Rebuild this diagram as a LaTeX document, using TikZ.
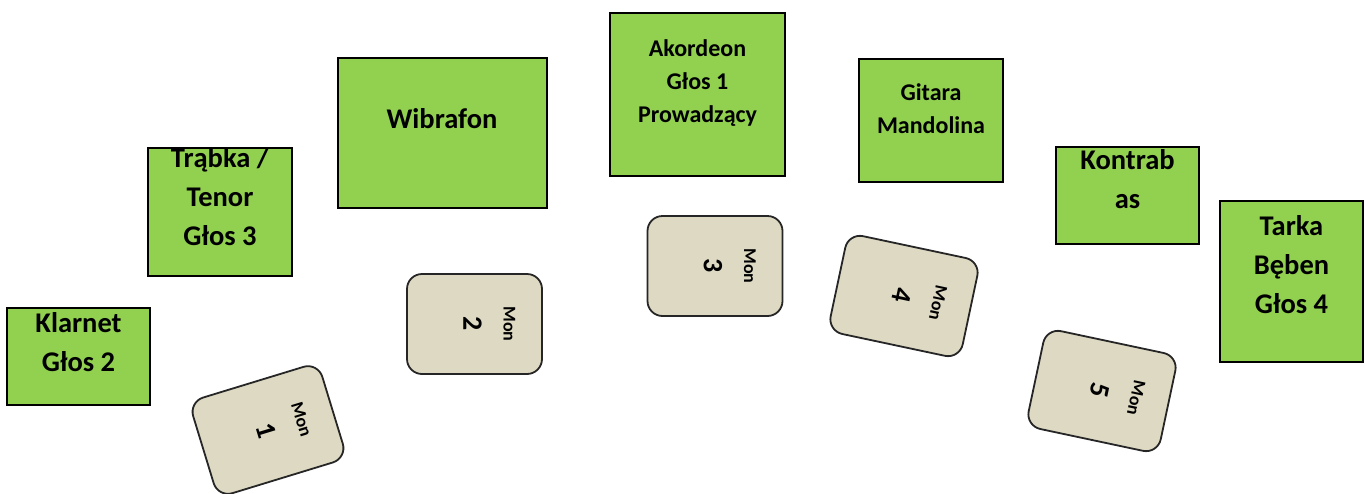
\documentclass[tikz,border=0pt]{standalone}
\usepackage{fontspec}
\setmainfont{Carlito}
\definecolor{boxgreen}{HTML}{92D050}
\definecolor{monfill}{HTML}{DDD9C3}
\definecolor{monline}{HTML}{262626}
\begin{document}
\begin{tikzpicture}[x=1pt,y=-1pt,
  greenbox/.style={draw=black, line width=2pt, fill=boxgreen, inner sep=0pt},
  bigtxt/.style={font=\bfseries\fontsize{28.5}{39}\selectfont, align=center, anchor=north, inner sep=0pt},
  smalltxt/.style={font=\bfseries\fontsize{24}{33}\selectfont, align=center, anchor=north, inner sep=0pt},
  monbox/.style={draw=monline, line width=1.8pt, fill=monfill, rounded corners=15pt,
    minimum width=135pt, minimum height=100pt, inner sep=0pt},
  montag/.style={font=\bfseries\fontsize{18}{20}\selectfont, inner sep=0pt, rotate=-90},
  monnum/.style={font=\bfseries\fontsize{28}{30}\selectfont, inner sep=0pt, rotate=-90}]
\useasboundingbox (0,0) rectangle (1365,493);
% green instrument boxes
\path[greenbox] (7,308) rectangle (150,405) node[midway] (klb) {};
\node[bigtxt] (klt) at (78.5,{332-27.3}) {\strut Klarnet\\Głos 2};
\path[greenbox] (148,148) rectangle (292,276) node[midway] (trb) {};
\node[bigtxt] (trt) at (220,{167-27.3}) {\strut Trąbka /\\Tenor\\Głos 3};
\path[greenbox] (338,58) rectangle (547,208) node[midway] (wib) {};
\node[bigtxt] (wit) at (442,{128-27.3}) {\strut Wibrafon};
\path[greenbox] (610,13) rectangle (785,176) node[midway] (akb) {};
\node[smalltxt] (akt) at (697.5,{56.7-23.1}) {\strut Akordeon\\Głos 1\\Prowadzący};
\path[greenbox] (859,59) rectangle (1003,182) node[midway] (gib) {};
\node[smalltxt] (git) at (931,{100-23.1}) {\strut Gitara\\Mandolina};
\path[greenbox] (1056,147) rectangle (1199,244) node[midway] (kob) {};
\node[bigtxt] (kot) at (1127.5,{169-27.3}) {\strut Kontrab\\as};
\path[greenbox] (1220,201) rectangle (1363,362) node[midway] (tab) {};
\node[bigtxt] (tat) at (1291.5,{235-27.3}) {\strut Tarka\\Bęben\\Głos 4};
% monitors
\begin{scope}[shift={(268,430)}, rotate=17, transform shape]
  \node[monbox] (m1) at (0,0) {};
  \node[montag] (m1t) at (35,0) {Mon};
  \node[monnum] (m1n) at (-2,0) {1};
\end{scope}
\begin{scope}[shift={(474.5,324)}, transform shape]
  \node[monbox] (m2) at (0,0) {};
  \node[montag] (m2t) at (35,0) {Mon};
  \node[monnum] (m2n) at (-2,0) {2};
\end{scope}
\begin{scope}[shift={(715,266)}, transform shape]
  \node[monbox] (m3) at (0,0) {};
  \node[montag] (m3t) at (35,0) {Mon};
  \node[monnum] (m3n) at (-2,0) {3};
\end{scope}
\begin{scope}[shift={(904,296)}, rotate=-12, transform shape]
  \node[monbox] (m4) at (0,0) {};
  \node[montag] (m4t) at (35,0) {Mon};
  \node[monnum] (m4n) at (-2,0) {4};
\end{scope}
\begin{scope}[shift={(1102,391)}, rotate=-12, transform shape]
  \node[monbox] (m5) at (0,0) {};
  \node[montag] (m5t) at (35,0) {Mon};
  \node[monnum] (m5n) at (-2,0) {5};
\end{scope}
\end{tikzpicture}
\end{document}
